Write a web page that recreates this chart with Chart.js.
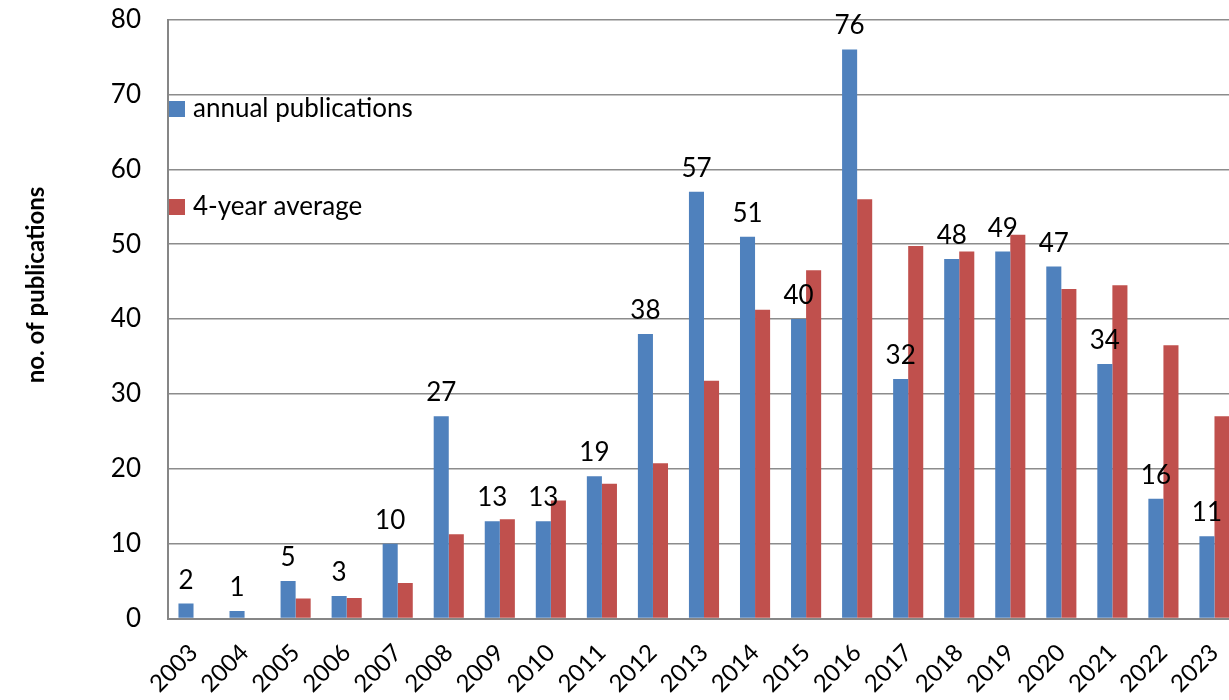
<!DOCTYPE html>
<html>
<head>
<meta charset="utf-8">
<script src="https://cdn.jsdelivr.net/npm/chart.js@4"></script>
<style>
  html, body { margin: 0; padding: 0; overflow: hidden; background: #fff; }
  #wrap { width: 1250px; height: 700px; }
</style>
</head>
<body>
<div id="wrap"><canvas id="chart" width="1250" height="700"></canvas></div>
<script>
const years = ["2003", "2004", "2005", "2006", "2007", "2008", "2009", "2010", "2011", "2012",
    "2013", "2014", "2015", "2016", "2017", "2018", "2019", "2020", "2021", "2022", "2023"];
const annual = [2, 1, 5, 3, 10, 27, 13, 13, 19, 38, 57, 51, 40, 76, 32, 48, 49, 47, 34, 16, 11];
const avg4 = [null, null, 2.67, 2.75, 4.75, 11.25, 13.25, 15.75, 18, 20.75, 31.75, 41.25, 46.5, 56,
    49.75, 49, 51.25, 44, 44.5, 36.5, 27];
const yTicks = [0, 10, 20, 30, 40, 50, 60, 70, 80];

const FONT = 'Lato, "Open Sans", sans-serif';
const BLUE = '#4F81BD';
const RED = '#C0504D';

// labels above the blue bars, legend and y title drawn by hand
const extras = {
    id: 'extras',
    afterDatasetsDraw(chart) {
        const ctx = chart.ctx;
        const meta = chart.getDatasetMeta(0);
        ctx.save();
        ctx.fillStyle = '#000';
        ctx.font = '26px ' + FONT;
        ctx.textAlign = 'center';
        ctx.textBaseline = 'alphabetic';
        meta.data.forEach((bar, i) => {
            ctx.fillText(String(annual[i]), bar.x, bar.y - 15);
        });

        // legend
        ctx.textAlign = 'left';
        ctx.textBaseline = 'middle';
        ctx.font = '26px ' + FONT;
        ctx.fillStyle = BLUE;
        ctx.fillRect(169, 101, 16, 16);
        ctx.fillStyle = '#000';
        ctx.fillText('annual publications', 193, 109);
        ctx.fillStyle = RED;
        ctx.fillRect(169, 199, 16, 16);
        ctx.fillStyle = '#000';
        ctx.fillText('4-year average', 193, 207);

        // y title
        ctx.translate(36, 285);
        ctx.rotate(-Math.PI / 2);
        ctx.textAlign = 'center';
        ctx.font = 'bold 24px ' + FONT;
        ctx.fillText('no. of publications', 0, 0);
        ctx.restore();
    }
};

new Chart(document.getElementById('chart'), {
    type: 'bar',
    data: {
        labels: years,
        datasets: [{
            label: 'annual publications',
            data: annual,
            backgroundColor: BLUE,
            categoryPercentage: 0.59,
            barPercentage: 1.0
        }, {
            label: '4-year average',
            data: avg4,
            backgroundColor: RED,
            categoryPercentage: 0.59,
            barPercentage: 1.0
        }]
    },
    options: {
        responsive: false,
        animation: false,
        layout: { padding: { top: 19.5, right: 10, left: 0, bottom: 0 } },
        plugins: {
            legend: { display: false },
            tooltip: { enabled: false }
        },
        scales: {
            x: {
                grid: { display: false, drawTicks: false },
                border: { display: true, color: '#868686', width: 2 },
                ticks: {
                    color: '#000',
                    font: { family: FONT, size: 24 },
                    minRotation: 45,
                    maxRotation: 45,
                    padding: 20
                },
                afterFit(scale) {
                    scale.height = 81.5;
                    scale.paddingLeft = 0;
                    scale.paddingRight = 0;
                }
            },
            y: {
                min: 0,
                max: 80,
                afterBuildTicks(scale) { scale.ticks = yTicks.map(v => ({ value: v })); },
                grid: { color: '#8c8c8c', lineWidth: 1.5, drawTicks: false },
                border: { display: true, color: '#868686', width: 2 },
                ticks: {
                    color: '#000',
                    font: { family: FONT, size: 26 },
                    padding: 27
                },
                afterFit(scale) {
                    scale.width = 168;
                    scale.paddingTop = 0;
                    scale.paddingBottom = 0;
                }
            }
        }
    },
    plugins: [extras]
});
</script>
</body>
</html>
